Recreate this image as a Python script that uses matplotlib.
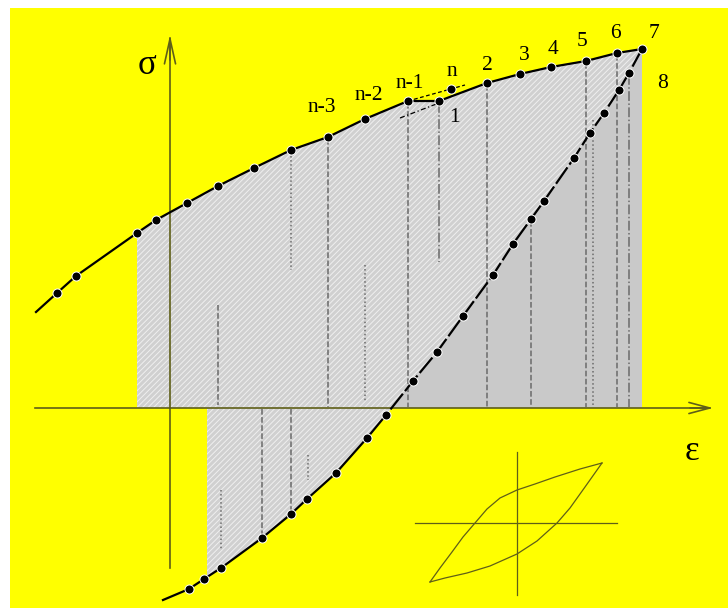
import numpy as np
import matplotlib.pyplot as plt

# everything is in picture units (pixels, y pointing down)
plt.rcParams['hatch.color'] = '#efefef'
plt.rcParams['hatch.linewidth'] = 0.7

# loading branch: dots along the upper curve (up to point n-1)
up_x = [57, 76, 137, 156, 187, 218, 254, 291, 328, 365, 408]
up_y = [293, 276, 233, 220, 203, 186, 168, 150, 137, 119, 101]
# points 1 .. 7 after the reversal step
tip_x = [439, 487, 520, 551, 586, 617, 642]
tip_y = [101, 83, 74, 67, 61, 53, 49]
# unloading branch from point 7 downwards
dn_x = [642, 629, 619, 604, 590, 574, 544, 531, 513, 493, 463, 437, 413,
        386, 367, 336, 307, 291, 262, 221, 204, 189]
dn_y = [49, 73, 90, 113, 133, 158, 201, 219, 244, 275, 316, 352, 381,
        415, 438, 473, 499, 514, 538, 568, 579, 589]
up_start = (36, 312)
dn_end = (163, 600)
pt_n = (451, 89)

# vertical construction lines: x, top, bottom, style
vl_x = [218, 291, 328, 365, 408, 439, 487, 531, 586, 593, 617, 629,
        221, 262, 291, 308]
vl_top = [305, 152, 139, 265, 103, 103, 85, 221, 63, 120, 55, 75,
          490, 409, 409, 455]
vl_bot = [405, 270, 407, 402, 407, 262, 407, 407, 407, 407, 407, 407,
          550, 538, 512, 480]
vl_sty = ['--', ':', '--', ':', '--', '-.', '--', '--', '--', ':', '--', '-.',
          ':', '--', '--', ':']

labels = ['n-3', 'n-2', 'n-1', 'n', '1', '2', '3', '4', '5', '6', '7', '8']
lab_x = [322, 369, 410, 452, 454, 487, 524, 553, 582, 615, 654, 663]
lab_y = [107, 95, 83, 72, 117, 65, 55, 49, 41, 33, 33, 83]

# small hysteresis loop in the corner
loop_up_x = [430, 440, 452, 463, 475, 487, 500, 517, 535, 555, 580, 602]
loop_up_y = [582, 568, 552, 537, 523, 509, 498, 490, 484, 477, 469, 463]
loop_dn_x = [430, 445, 467, 490, 517, 537, 557, 570, 585, 602]
loop_dn_y = [582, 578, 573, 566, 554, 541, 523, 508, 487, 463]

axis_y = 408
axis_x = 170
olive = '#5f5f18'

fig = plt.figure(figsize=(7.28, 6.08), dpi=100, facecolor='white')
ax = fig.add_axes([10 / 728, 0, 718 / 728, 600 / 608])
ax.set_facecolor('#ffff00')
ax.set_xlim(10, 728)
ax.set_ylim(608, 8)
ax.set_xticks([])
ax.set_yticks([])
for sp in ax.spines.values():
    sp.set_visible(False)

cx = [up_start[0]] + up_x + tip_x
cy = [up_start[1]] + up_y + tip_y
lx = list(dn_x) + [dn_end[0]]
ly = list(dn_y) + [dn_end[1]]

# shaded areas
xs = np.arange(137, 643)
ax.fill_between(xs, np.interp(xs, cx, cy), axis_y, facecolor='#d0d0d0',
                hatch='//////', linewidth=0, zorder=1)
x_cross = np.interp(axis_y, ly, lx)
xr = np.arange(int(np.ceil(x_cross)), 643)
ax.fill_between(xr, np.interp(xr, lx[::-1], ly[::-1]), axis_y,
                facecolor='#c9c9c9', linewidth=0, zorder=1.5)
xb = np.arange(207, int(x_cross) + 1)
ax.fill_between(xb, axis_y, np.interp(xb, lx[::-1], ly[::-1]),
                facecolor='#d0d0d0', hatch='//////', linewidth=0, zorder=1)

for x, t, b, s in zip(vl_x, vl_top, vl_bot, vl_sty):
    ax.plot([x, x], [t, b], color='#6a6a6a', lw=1.1, ls=s, zorder=2)

# axes with open arrow heads
ax.plot([35, 710], [axis_y, axis_y], color=olive, lw=1.2, zorder=3)
ax.plot([axis_x, axis_x], [568, 38], color=olive, lw=1.2, zorder=3)
ax.annotate('', xy=(713, axis_y), xytext=(690, axis_y),
            arrowprops=dict(arrowstyle='->,head_length=1.5,head_width=0.4',
                            color=olive, lw=1.2, shrinkA=0, shrinkB=0))
ax.annotate('', xy=(axis_x, 35), xytext=(axis_x, 60),
            arrowprops=dict(arrowstyle='->,head_length=1.8,head_width=0.4',
                            color=olive, lw=1.2, shrinkA=0, shrinkB=0))

# curves
ax.plot(cx, cy, color='black', lw=1.6, zorder=4)
ax.plot(lx[:14], ly[:14], color='black', lw=1.6, dashes=(9, 1.5), zorder=4)
ax.plot(lx[13:], ly[13:], color='black', lw=1.6, zorder=4)
ax.plot([up_x[-1], pt_n[0] + 14], [up_y[-1], pt_n[1] - 4], color='black',
        lw=0.9, ls=(0, (3, 2)), zorder=4)
ax.plot([400, tip_x[0]], [118, tip_y[0] + 2], color='black', lw=0.9,
        ls=(0, (4, 2, 1, 2)), zorder=4)

dot = dict(ls='none', marker='o', ms=6.5, mfc='black', mec='white',
           mew=0.7, zorder=5)
ax.plot(up_x + tip_x, up_y + tip_y, **dot)
ax.plot(dn_x[1:], dn_y[1:], **dot)
ax.plot([pt_n[0]], [pt_n[1]], **dot)

serif = ['Liberation Serif', 'DejaVu Serif']
for s, x, y in zip(labels, lab_x, lab_y):
    ax.text(x, y, s, family=serif, fontsize=15.5, ha='center', va='center',
            zorder=6)
ax.text(147, 66, 'σ', family=serif, fontsize=25, ha='center', va='center')
ax.text(692, 452, 'ε', family=serif, fontsize=25, ha='center', va='center')

# inset loop
ax.plot([517, 517], [452, 595], color=olive, lw=0.9)
ax.plot([415, 617], [523, 523], color=olive, lw=0.9)
ax.plot(loop_up_x, loop_up_y, color=olive, lw=0.9)
ax.plot(loop_dn_x, loop_dn_y, color=olive, lw=0.9)

fig.savefig('out.png', dpi=100, facecolor='white')
